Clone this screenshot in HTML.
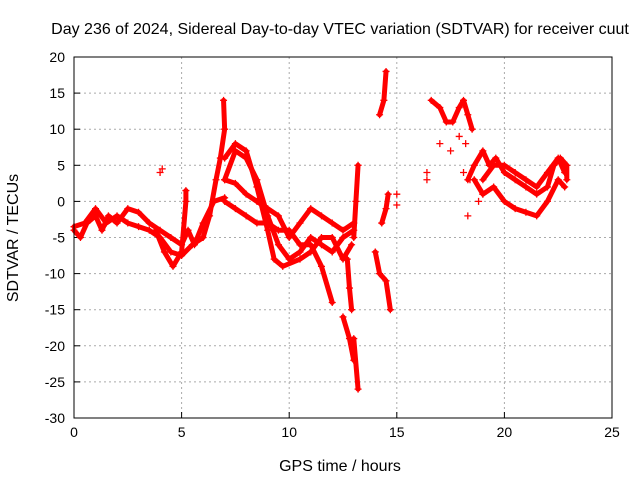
<!DOCTYPE html>
<html><head><meta charset="utf-8"><style>
body{margin:0;background:#fff;}
svg{display:block;font-family:"Liberation Sans",sans-serif;}
</style></head><body>
<svg id="chart" width="640" height="480" viewBox="0 0 640 480" xmlns="http://www.w3.org/2000/svg">
<text x="340" y="34" font-size="16" text-anchor="middle">Day 236 of 2024, Sidereal Day-to-day VTEC variation (SDTVAR) for receiver cuut</text>
<g id="grid"></g>
<g id="ticks"></g>
<g id="series"></g>
<rect x="74" y="57" width="538" height="361" fill="none" stroke="#000" stroke-width="1"/>
<text x="340" y="471" font-size="16" text-anchor="middle">GPS time / hours</text>
<text x="18" y="238" font-size="16" text-anchor="middle" transform="rotate(-90 18 238)">SDTVAR / TECUs</text>
</svg>
<script>
const xTicks=[0,5,10,15,20,25];
const yTicks=[20,15,10,5,0,-5,-10,-15,-20,-25,-30];
const track1=[[0,-4],[0.3,-5],[0.6,-3],[1,-2],[1.3,-4],[1.6,-2],[2,-3],[2.5,-1],[3,-1.5],[3.5,-3],[4,-4],[4.5,-5],[5,-6],[5.3,-4],[5.6,-6],[6,-3],[6.5,0],[7,0.5]];
const track2=[[0,-3.5],[0.5,-3],[1,-1],[1.5,-3],[2,-2],[2.5,-3],[3,-3.5],[3.5,-4],[4,-5],[4.5,-7],[5,-7.5],[5.5,-6],[6,-5],[6.3,-2],[6.6,3],[6.8,6],[7,10],[6.95,14]];
const track3=[[3.8,-4],[4.2,-7],[4.6,-9],[5,-7],[5.2,0],[5.2,1.5]];
const track4=[[7,3],[7.5,7],[8,6],[8.5,3],[9,-2],[9.5,-6],[10,-8],[10.5,-7],[11,-5],[11.5,-6],[12,-7],[12.5,-5],[13,-4]];
const track5=[[7,6],[7.5,8],[8,7],[8.5,2],[9,-4],[9.3,-8],[9.7,-9],[10.5,-8],[11,-7],[11.5,-5],[12,-5],[12.5,-8],[12.9,-6]];
const track6=[[7,0],[7.5,-1],[8,-2],[8.5,-3],[9,-3],[9.5,-4],[10,-4],[10.5,-6],[11,-6],[11.5,-9],[12,-14]];
const track7=[[7,3],[7.5,2.5],[8,1],[8.5,0],[9,-1],[9.5,-2],[10,-5],[10.5,-3],[11,-1],[11.5,-2],[12,-3],[12.5,-4],[13,-3]];
const track8=[[12.5,-16],[12.8,-19],[13,-22],[13,-19],[13.2,-26]];
const track9=[[12.7,-8],[12.8,-12],[12.9,-15]];
const track10=[[13,-5],[13.1,0],[13.2,5]];
const track11=[[14.2,12],[14.4,14],[14.5,18]];
const track12=[[14.3,-3],[14.5,-1],[14.6,1]];
const track13=[[14,-7],[14.2,-10],[14.5,-11],[14.7,-15]];
const track14=[[16.6,14],[17,13],[17.3,11],[17.6,11],[17.9,13],[18.1,14],[18.3,12],[18.5,10]];
const track15=[[18.3,3],[18.6,5],[19,7],[19.3,5],[19.6,6],[20,4],[20.5,3],[21,2],[21.5,1],[22,2],[22.3,5],[22.6,6],[22.9,5],[22.9,3]];
const track16=[[18.6,3],[19,1],[19.5,2],[20,0],[20.5,-1],[21,-1.5],[21.5,-2],[22,0],[22.5,3],[22.8,2]];
const track17=[[19,3],[19.5,5],[20,5],[20.5,4],[21,3],[21.5,2],[22,4],[22.5,6],[22.8,4]];
const scatterPts=[[4,4],[4.1,4.5],[18.3,-2],[17.5,7],[17,8],[19,1],[18.8,0],[15,1],[15,-0.5],[16.4,4],[16.4,3],[17.9,9],[18.2,8],[18.1,4],[18.4,3]];
const tracks=[track1,track2,track3,track4,track5,track6,track7,track8,track9,track10,track11,track12,track13,track14,track15,track16,track17];
const X0=74,X1=612,Y0=418,Y1=57;
function xs(v){return X0+(v-0)/25*(X1-X0);}
function ys(v){return Y0-(v+30)/50*(Y0-Y1);}
const NS="http://www.w3.org/2000/svg";
const grid=document.getElementById('grid'),ticks=document.getElementById('ticks'),ser=document.getElementById('series');
function mk(t,a){const e=document.createElementNS(NS,t);for(const k in a)e.setAttribute(k,a[k]);return e;}
xTicks.forEach(v=>{const x=xs(v);
 if(v>0&&v<25){const g=mk('line',{x1:x,x2:x,y1:Y1,y2:Y0,stroke:'#aaa','stroke-dasharray':'2,3'});
 
 grid.appendChild(g);}
 const t=mk('text',{x:x,y:Y0+19,'font-size':14,'text-anchor':'middle'});t.textContent=v;
 
 ticks.appendChild(t);
 ticks.appendChild(mk('line',{x1:x,x2:x,y1:Y0,y2:Y0-6,stroke:'#000'}));});
yTicks.forEach(v=>{const y=ys(v);
 if(v>-30&&v<20){const g=mk('line',{x1:X0,x2:X1,y1:y,y2:y,stroke:'#aaa','stroke-dasharray':'2,3'});
 
 grid.appendChild(g);}
 const t=mk('text',{x:X0-9,y:y+5,'font-size':14,'text-anchor':'end'});t.textContent=v;
 
 ticks.appendChild(t);
 ticks.appendChild(mk('line',{x1:X0,x2:X0+6,y1:y,y2:y,stroke:'#000'}));});
function plus(x,y){const p=mk('path',{d:`M${x-3.5},${y}h7M${x},${y-3.5}v7`,stroke:'#f00','stroke-width':1.3});
 
 ser.appendChild(p);}
tracks.forEach(tr=>{const pl=mk('polyline',{points:tr.map(p=>xs(p[0])+','+ys(p[1])).join(' '),fill:'none',stroke:'#f00','stroke-width':5,'stroke-linejoin':'round','stroke-linecap':'round'});
 
 ser.appendChild(pl);
 tr.forEach(p=>plus(xs(p[0]),ys(p[1])));});
scatterPts.forEach(p=>plus(xs(p[0]),ys(p[1])));
</script>
</body></html>
